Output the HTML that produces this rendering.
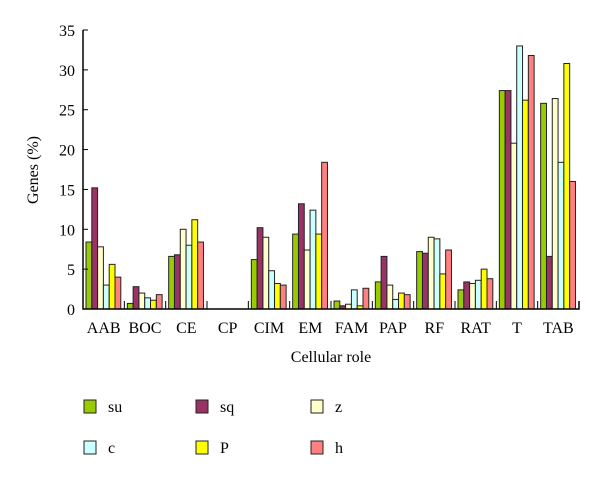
<!DOCTYPE html>
<html><head><meta charset="utf-8"><style>
body{margin:0;background:#fff;}
svg text{font-family:"Liberation Serif",serif;fill:#000;}
</style></head><body>
<svg id="chart" width="600" height="480" xmlns="http://www.w3.org/2000/svg"></svg>
<script>
const categories=["AAB","BOC","CE","CP","CIM","EM","FAM","PAP","RF","RAT","T","TAB"];
const seriesNames=["su","sq","z","c","P","h"];
const su=[8.4,0.7,6.6,0,6.2,9.4,1.0,3.4,7.2,2.4,27.4,25.8];
const sq=[15.2,2.8,6.8,0,10.2,13.2,0.4,6.6,7.0,3.4,27.4,6.6];
const z=[7.8,2.0,10.0,0,9.0,7.4,0.6,3.0,9.0,3.2,20.8,26.4];
const c=[3.0,1.4,8.0,0,4.8,12.4,2.4,1.2,8.8,3.6,33.0,18.4];
const P=[5.6,1.1,11.2,0,3.2,9.4,0.4,2.0,4.4,5.0,26.2,30.8];
const h=[4.0,1.8,8.4,0,3.0,18.4,2.6,1.8,7.4,3.8,31.8,16.0];
const yTicks=[0,5,10,15,20,25,30,35];
const series=[su,sq,z,c,P,h];
const colors=["#99cc00","#993366","#ffffcc","#ccffff","#ffff00","#ff8080"];
const NS="http://www.w3.org/2000/svg";
const svg=document.getElementById("chart");
const x0=83,x1=579,yTop=30,yBot=309,ymax=35;
const y=v=>yBot-v/ymax*(yBot-yTop);
const gw=(x1-x0)/categories.length;
const bw=5.8;
function mk(t,a){const e=document.createElementNS(NS,t);for(const k in a)e.setAttribute(k,a[k]);svg.appendChild(e);return e;}
// bars
categories.forEach((cat,i)=>{
  series.forEach((s,j)=>{
    if(s[i]<=0)return;
    const r=mk("rect",{x:x0+i*gw+3+j*bw,y:y(s[i]),width:bw,height:yBot-y(s[i]),fill:colors[j],stroke:"#222","stroke-width":1});
    
    
  });
  if(i>0){const t=mk("line",{x1:x0+i*gw,x2:x0+i*gw,y1:yBot,y2:yBot-8,stroke:"#000","stroke-width":1});
    
    }
  const l=mk("text",{x:x0+i*gw+gw/2,y:333,"text-anchor":"middle","font-size":16});
  l.textContent=cat;
  
  
});
// axes
const ax=mk("path",{d:`M${x0},${yTop} V${yBot} H${x1} V${yBot-8}`,fill:"none",stroke:"#000","stroke-width":1.5});


yTicks.forEach(v=>{
  const t=mk("line",{x1:x0,x2:x0+5,y1:y(v),y2:y(v),stroke:"#000","stroke-width":1});
  
  
  const l=mk("text",{x:75,y:y(v)+6,"text-anchor":"end","font-size":16});
  l.textContent=v;
  
  
});
const yt=mk("text",{x:38,y:170,"text-anchor":"middle","font-size":16,transform:"rotate(-90 38 170)"});
yt.textContent="Genes (%)";


const xt=mk("text",{x:331,y:362,"text-anchor":"middle","font-size":16});
xt.textContent="Cellular role";


// legend
const lx=[84,196,311],ly=[400,441];
seriesNames.forEach((n,j)=>{
  const cx=lx[j%3],cy=ly[Math.floor(j/3)];
  const r=mk("rect",{x:cx,y:cy,width:12,height:13,fill:colors[j],stroke:"#222","stroke-width":1});
  
  
  const t=mk("text",{x:cx+24,y:cy+12,"font-size":16});
  t.textContent=n;
  
  
});
</script>
</body></html>
